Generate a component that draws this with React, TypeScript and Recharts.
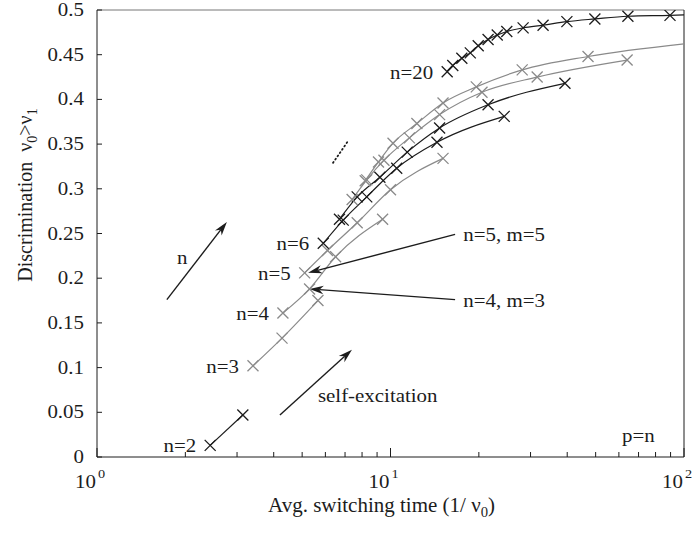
import React from 'react';
import { LineChart, Line, XAxis, YAxis, ReferenceLine, ReferenceDot, Label } from 'recharts';

const BLACK = '#1c1c1c';
const GRAY = '#8a8a8a';
const FONT = '"Liberation Serif", "Times New Roman", serif';

// axis ticks
const xTicks = [1, 2, 3, 4, 5, 6, 7, 8, 9, 10, 20, 30, 40, 50, 60, 70, 80, 90, 100];
const xMajor = [1, 10, 100];
const yTicks = [0, 0.05, 0.1, 0.15, 0.2, 0.25, 0.3, 0.35, 0.4, 0.45, 0.5];

// avg. switching time (x) and discrimination (y), one pair per n
const n2Time = [2.43, 3.14];
const n2Disc = [0.013, 0.047];
const n3Time = [3.4, 4.27, 5.66];
const n3Disc = [0.102, 0.133, 0.175];
const n4Time = [4.3, 5.3, 6.5, 9.4];
const n4Disc = [0.161, 0.188, 0.224, 0.266];
const n5Time = [5.1, 6.1, 7.7, 10.0, 15.1];
const n5Disc = [0.206, 0.231, 0.262, 0.299, 0.334];
const n6Time = [5.9, 6.9, 8.3, 10.5, 14.4, 24.4];
const n6Disc = [0.239, 0.265, 0.291, 0.323, 0.352, 0.381];
const n7Time = [6.7, 7.7, 9.2, 11.4, 14.7, 21.5, 39.3];
const n7Disc = [0.266, 0.291, 0.313, 0.341, 0.368, 0.394, 0.418];
const n8Time = [7.4, 8.3, 9.5, 11.6, 14.7, 20.5, 31.6, 64];
const n8Disc = [0.288, 0.31, 0.332, 0.357, 0.383, 0.408, 0.425, 0.444];
const n9Time = [8.2, 9.1, 10.2, 12.3, 15.1, 19.6, 28.1, 47.1, 106];
const n9Disc = [0.309, 0.33, 0.351, 0.373, 0.396, 0.414, 0.433, 0.448, 0.463];
const n20Time = [15.6, 16.3, 17.5, 18.7, 19.9, 21.5, 23.1, 24.9, 28.3, 33.1, 39.9, 49.7, 64.4, 89.6, 130];
const n20Disc = [0.431, 0.438, 0.446, 0.452, 0.46, 0.467, 0.472, 0.476, 0.48, 0.483, 0.487, 0.49, 0.493, 0.494, 0.496];

const zip = (xs: number[], ys: number[]) => xs.map((x, i) => ({ x, y: ys[i] }));

const curves = [
  { id: 'n2', label: 'n=2', color: BLACK, data: zip(n2Time, n2Disc) },
  { id: 'n3', label: 'n=3', color: GRAY, data: zip(n3Time, n3Disc) },
  { id: 'n4', label: 'n=4', color: GRAY, data: zip(n4Time, n4Disc) },
  { id: 'n5', label: 'n=5', color: GRAY, data: zip(n5Time, n5Disc) },
  { id: 'n6', label: 'n=6', color: BLACK, data: zip(n6Time, n6Disc) },
  { id: 'n7', label: '', color: BLACK, data: zip(n7Time, n7Disc) },
  { id: 'n8', label: '', color: GRAY, data: zip(n8Time, n8Disc) },
  { id: 'n9', label: '', color: GRAY, data: zip(n9Time, n9Disc) },
  { id: 'n20', label: 'n=20', color: BLACK, data: zip(n20Time, n20Disc) },
];

// annotations (data coordinates)
const arrows = [
  { from: { x: 1.73, y: 0.176 }, to: { x: 2.77, y: 0.263 } },
  { from: { x: 4.2, y: 0.047 }, to: { x: 7.39, y: 0.12 } },
  { from: { x: 16.6, y: 0.249 }, to: { x: 5.24, y: 0.206 } },
  { from: { x: 16.6, y: 0.176 }, to: { x: 5.3, y: 0.188 } },
];
const notes = [
  { text: 'n', x: 1.95, y: 0.224, anchor: 'middle' },
  { text: 'self-excitation', x: 5.66, y: 0.069, anchor: 'start' },
  { text: 'n=5, m=5', x: 17.7, y: 0.25, anchor: 'start' },
  { text: 'n=4, m=3', x: 17.7, y: 0.176, anchor: 'start' },
  { text: 'p=n', x: 61.5, y: 0.025, anchor: 'start' },
];

// serif text, slightly widened like the source figure
const SText = ({ x, y, anchor = 'start', size = 19, sx = 1.1, children }: any) => (
  <text
    transform={`translate(${x} ${y}) scale(${sx} 1)`}
    textAnchor={anchor}
    fontSize={size}
    fontFamily={FONT}
    fill={BLACK}
  >
    {children}
  </text>
);

const crossDot = (color: string) => (props: any) => {
  const { cx, cy, index } = props;
  if (cx == null || cy == null) return <g key={`e-${index}`} />;
  const s = 5.5;
  return (
    <path
      key={`c-${index}`}
      d={`M${cx - s},${cy - s}L${cx + s},${cy + s}M${cx - s},${cy + s}L${cx + s},${cy - s}`}
      stroke={color}
      strokeWidth={1.3}
      fill="none"
    />
  );
};

const BottomTick = (props: any) => {
  const { x, y, payload } = props;
  const v = payload.value;
  const major = xMajor.includes(v);
  return (
    <g>
      <line x1={x} x2={x} y1={y} y2={y - (major ? 9 : 5)} stroke={BLACK} />
      {major && (
        <>
          <SText x={x - 1} y={y + 31} anchor="end">10</SText>
          <SText x={x + 1} y={y + 21} size={13}>{Math.round(Math.log10(v))}</SText>
        </>
      )}
    </g>
  );
};

const TopTick = (props: any) => {
  const { x, y, payload } = props;
  const major = xMajor.includes(payload.value);
  return <line x1={x} x2={x} y1={y} y2={y + (major ? 8 : 4)} stroke={BLACK} />;
};

const LeftTick = (props: any) => {
  const { x, y, payload } = props;
  return (
    <g>
      <line x1={x} x2={x + 5} y1={y} y2={y} stroke={BLACK} />
      <SText x={x - 13} y={y + 6} anchor="end">{String(payload.value)}</SText>
    </g>
  );
};

const YTitle = (props: any) => {
  const { viewBox } = props;
  const cx = viewBox.x + 32;
  const cy = viewBox.y + 185;
  return (
    <text x={cx} y={cy} transform={`rotate(-90 ${cx} ${cy})`} textAnchor="middle" fontSize={20} fontFamily={FONT} fill={BLACK}>
      Discrimination {'\u00a0'}ν<tspan dy={5} fontSize={14}>0</tspan>
      <tspan dy={-5}>&gt;ν</tspan>
      <tspan dy={5} fontSize={14}>1</tspan>
    </text>
  );
};

const XTitle = (props: any) => {
  const { viewBox } = props;
  const cx = viewBox.x + viewBox.width / 2 - 9;
  const cy = viewBox.y + 55;
  return (
    <SText x={cx} y={cy} anchor="middle" size={20} sx={1.05}>
      Avg. switching time (1/ ν<tspan dy={5} fontSize={14}>0</tspan>
      <tspan dy={-5}>)</tspan>
    </SText>
  );
};

const arrowShape = (props: any) => {
  const { x1, y1, x2, y2 } = props;
  const a = Math.atan2(y2 - y1, x2 - x1);
  const c = Math.cos(a);
  const s = Math.sin(a);
  const L = 14;
  const W = 4.2;
  const bx = x2 - L * c;
  const by = y2 - L * s;
  const nx = x2 - L * 0.7 * c;
  const ny = y2 - L * 0.7 * s;
  const pts = [
    [x2, y2],
    [bx - W * s, by + W * c],
    [nx, ny],
    [bx + W * s, by - W * c],
  ]
    .map((p) => p.join(','))
    .join(' ');
  return (
    <g>
      <line x1={x1} y1={y1} x2={nx} y2={ny} stroke={BLACK} strokeWidth={1.4} />
      <polygon points={pts} fill={BLACK} />
    </g>
  );
};

const App: React.FC = () => (
  <div style={{ position: 'absolute', left: 0, top: 0, background: '#fff' }}>
    <LineChart width={697} height={534} margin={{ top: 10, right: 13, bottom: 37, left: 0 }}>
      <XAxis
        dataKey="x"
        type="number"
        scale="log"
        domain={[1, 100]}
        allowDataOverflow
        ticks={xTicks}
        interval={0}
        tickSize={0}
        tickMargin={0}
        tick={BottomTick}
        axisLine={{ stroke: BLACK }}
        tickLine={false}
        height={40}
      >
        <Label content={XTitle} />
      </XAxis>
      <XAxis
        xAxisId="top"
        orientation="top"
        dataKey="x"
        type="number"
        scale="log"
        domain={[1, 100]}
        allowDataOverflow
        ticks={xTicks}
        interval={0}
        tickSize={0}
        tickMargin={0}
        tick={TopTick}
        axisLine={false}
        tickLine={false}
        height={0}
      />
      <YAxis
        type="number"
        domain={[0, 0.5]}
        allowDataOverflow
        ticks={yTicks}
        interval={0}
        tickSize={0}
        tickMargin={0}
        tick={LeftTick}
        axisLine={{ stroke: BLACK }}
        tickLine={false}
        width={97}
      >
        <Label content={YTitle} />
      </YAxis>
      <ReferenceLine y={0.5} stroke="#777" />
      <ReferenceLine x={100} stroke={BLACK} />
      {curves.map((c) => (
        <Line
          key={c.id}
          data={c.data}
          dataKey="y"
          type="monotone"
          stroke={c.color}
          strokeWidth={1.2}
          dot={crossDot(c.color)}
          activeDot={false}
          isAnimationActive={false}
        />
      ))}
      {curves
        .filter((c) => c.label)
        .map((c) => (
          <ReferenceDot
            key={`lbl-${c.id}`}
            x={c.data[0].x}
            y={c.data[0].y}
            shape={(p: any) => (
              <SText x={p.cx - 14} y={p.cy + 7} anchor="end">{c.label}</SText>
            )}
          />
        ))}
      {arrows.map((a, i) => (
        <ReferenceLine key={`arr-${i}`} segment={[a.from, a.to]} shape={arrowShape} />
      ))}
      <ReferenceLine
        segment={[{ x: 6.37, y: 0.329 }, { x: 7.17, y: 0.3535 }]}
        stroke={BLACK}
        strokeWidth={1.8}
        strokeDasharray="1 3"
        strokeLinecap="round"
      />
      {notes.map((n, i) => (
        <ReferenceDot
          key={`note-${i}`}
          x={n.x}
          y={n.y}
          shape={(p: any) => (
            <SText x={p.cx} y={p.cy + 7} anchor={n.anchor}>{n.text}</SText>
          )}
        />
      ))}
    </LineChart>
  </div>
);

export default App;
